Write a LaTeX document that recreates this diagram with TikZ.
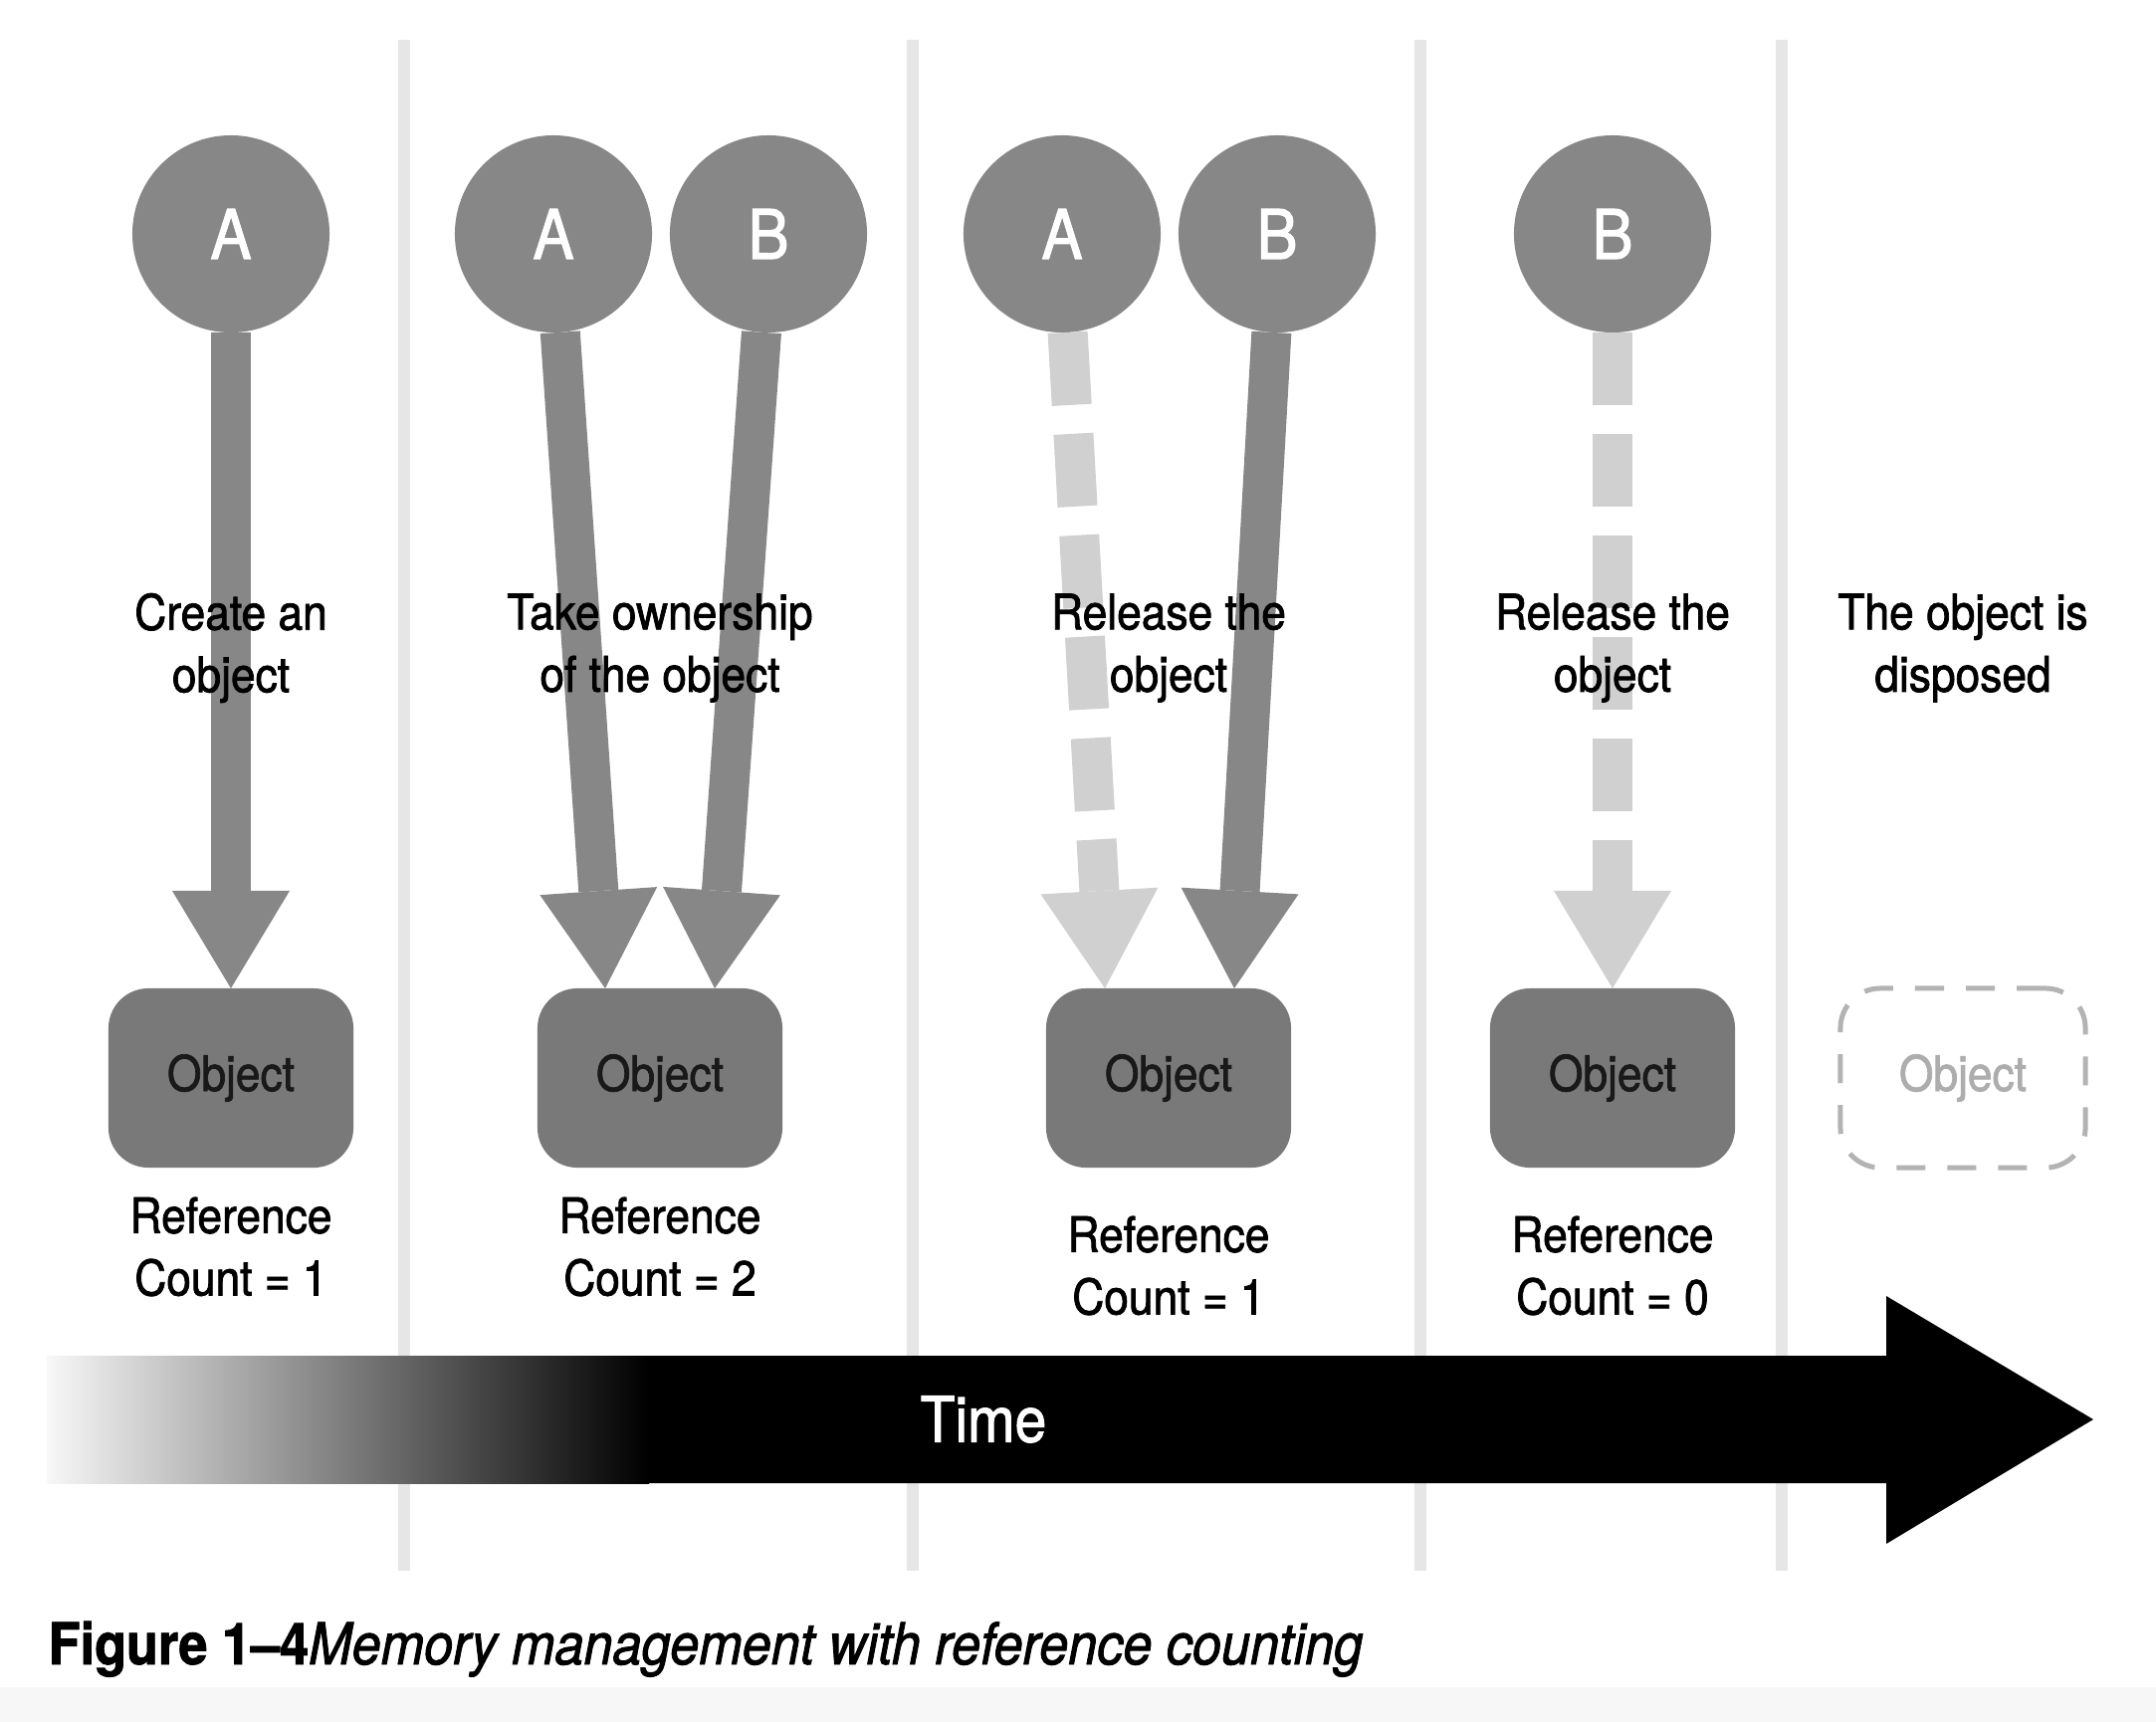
\documentclass[tikz,border=0pt]{standalone}
\usepackage{fontspec}
\setmainfont{TeX Gyre Heros}[FakeStretch=0.9, FakeBold=1.5]
\usetikzlibrary{arrows.meta, positioning, calc}

\definecolor{ownergray}{HTML}{878787}
\definecolor{releasegray}{HTML}{D0D0D0}
\definecolor{objgray}{HTML}{797979}
\definecolor{gonegray}{HTML}{B3B3B3}
\definecolor{sepgray}{HTML}{E6E6E6}
\colorlet{fadewhite}{black!3}

\begin{document}
\begin{tikzpicture}[x=0.01cm, y=-0.01cm, >={Triangle[length=9.8mm, width=11.8mm, line width=0pt]},
    owner/.style={circle, fill=ownergray, text=white, minimum size=1.98cm, inner sep=0pt, outer sep=0pt, font=\fontsize{19.5}{23}\selectfont},
    object/.style={rectangle, rounded corners=0.4cm, fill=objgray, text=black!90, minimum width=2.46cm, minimum height=1.8cm, inner sep=0pt, outer sep=0pt, font=\fontsize{14}{17}\selectfont},
    gone/.style={object, fill=none, draw=gonegray, line width=0.05cm, dash pattern=on 0.29cm off 0.22cm, text=black!32},
    steptext/.style={align=center, inner sep=0pt, font=\fontsize{14}{17.8}\selectfont},
    holds/.style={->, line width=0.4cm, draw=ownergray},
    released/.style={holds, draw=releasegray, dash pattern=on 0.73cm off 0.29cm},
    sep/.style={draw=sepgray, line width=0.12cm}]
    \useasboundingbox (0,0) rectangle (2166,1730);
    \fill[black!3] (0,1695) rectangle (2166,1730);

    % Separators
    \draw[sep] (406,40) -- (406,1578);
    \draw[sep] (917,40) -- (917,1578);
    \draw[sep] (1427,40) -- (1427,1578);
    \draw[sep] (1790,40) -- (1790,1578);

    % Nodes
    \node[owner] (A1) at (232,235) {A};
    \node[owner] (A2) at (556,235) {A};
    \node[owner] (B2) at (772,235) {B};
    \node[owner] (A3) at (1067,235) {A};
    \node[owner] (B3) at (1283,235) {B};
    \node[owner] (B4) at (1620,235) {B};

    \node[object] (obj1) at (232,1083) {Object};
    \node[object] (obj2) at (663,1083) {Object};
    \node[object] (obj3) at (1174,1083) {Object};
    \node[object] (obj4) at (1620,1083) {Object};
    \node[gone] (obj5) at (1972,1083) {Object};

    \node[steptext, below=0.29cm of obj1] (count1) {Reference\\Count = 1};
    \node[steptext, below=0.29cm of obj2] (count2) {Reference\\Count = 2};
    \node[steptext, below=0.48cm of obj3] (count3) {Reference\\Count = 1};
    \node[steptext, below=0.48cm of obj4] (count4) {Reference\\Count = 0};

    % Connections
    \draw[holds] (A1) -- (obj1.north);
    \draw[holds] (A2) -- ($(obj2.north)+(-55,0)$);
    \draw[holds] (B2) -- ($(obj2.north)+(55,0)$);
    \draw[released] (A3) -- ($(obj3.north)+(-64,0)$);
    \draw[holds] (B3) -- ($(obj3.north)+(66,0)$);
    \draw[released] (B4) -- (obj4.north);

    % Step labels, over the shafts
    \node[steptext] (step1) at (232,651) {Create an\\object};
    \node[steptext] (step2) at (663,651) {Take ownership\\of the object};
    \node[steptext] (step3) at (1174,651) {Release the\\object};
    \node[steptext] (step4) at (1620,651) {Release the\\object};
    \node[steptext] (step5) at (1972,651) {The object is\\disposed};

    % Time arrow
    \fill (650,1362) -- (1895,1362) -- (1895,1302) -- (2103,1426) -- (1895,1551) -- (1895,1490) -- (650,1490) -- cycle;
    \shade[left color=fadewhite, right color=black] (47,1362) rectangle (652,1490);
    \node[text=white, font=\fontsize{18}{21}\selectfont] (time) at (988,1426) {Time};

    % Caption
    \node[anchor=base west, inner sep=0pt, font=\fontsize{16.5}{20}\selectfont] (caption) at (48,1672)
        {\textbf{Figure 1–4}\textit{Memory management with reference counting}};
\end{tikzpicture}
\end{document}
